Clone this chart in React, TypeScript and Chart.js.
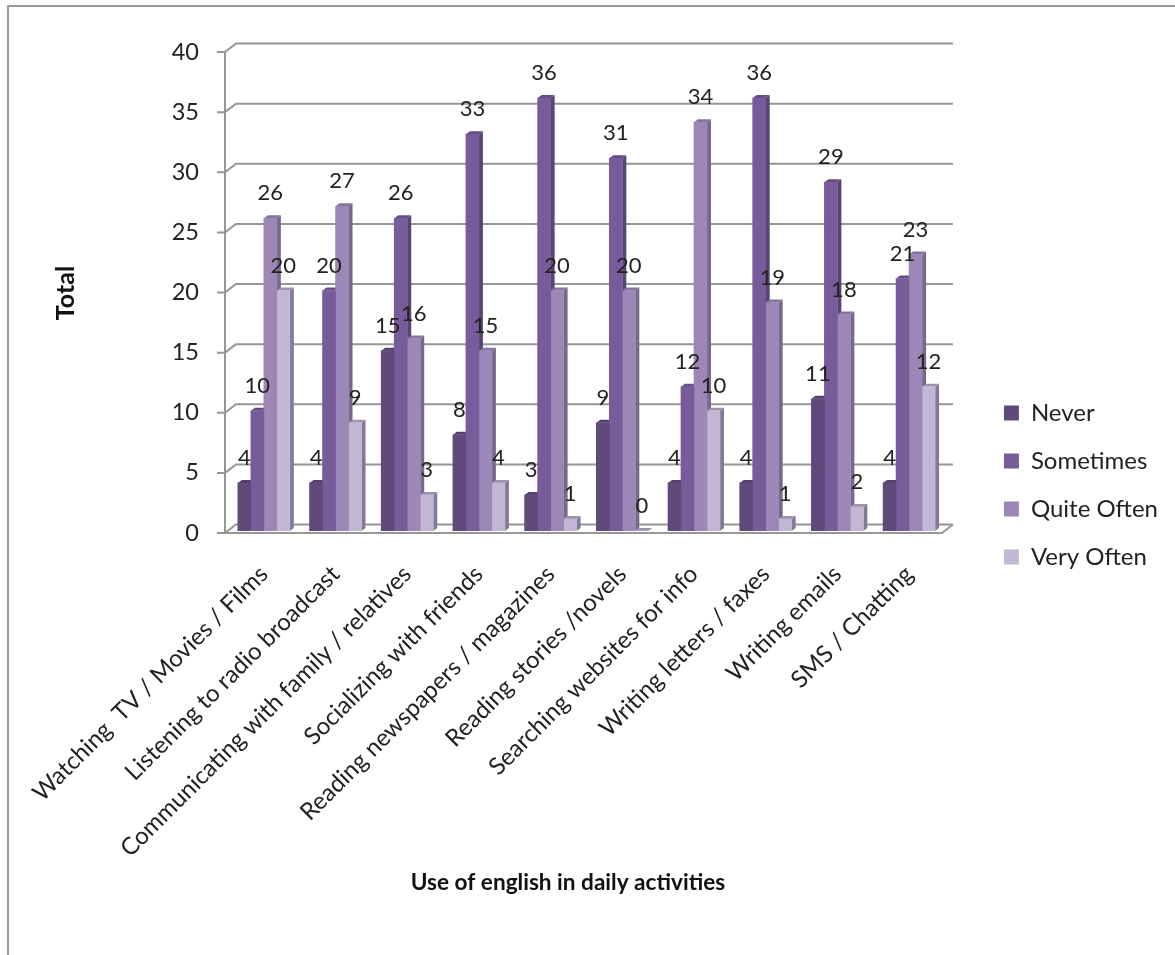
import React, { useEffect, useRef } from "react";
import { Chart, registerables } from "chart.js";

Chart.register(...registerables);

const categories = [
  "Watching  TV / Movies / Films",
  "Listening to radio broadcast",
  "Communicating with family / relatives",
  "Socializing with friends",
  "Reading newspapers / magazines",
  "Reading stories /novels",
  "Searching websites for info",
  "Writing letters / faxes",
  "Writing emails",
  "SMS / Chatting",
];
const never = [4, 4, 15, 8, 3, 9, 4, 4, 11, 4];
const sometimes = [10, 20, 26, 33, 36, 31, 12, 36, 29, 21];
const quiteOften = [26, 27, 16, 15, 20, 20, 34, 19, 18, 23];
const veryOften = [20, 9, 3, 4, 1, 0, 10, 1, 2, 12];

const FRONT = ["#604a7b", "#775b9a", "#9c87b6", "#c3b8d4"];
const SIDE = ["#4b3a61", "#584475", "#766a8c", "#85799a"];
const TOP = ["#54406c", "#644e85", "#85749d", "#a093ad"];
const GRID = "#969696";
const FONT = "Lato, 'Open Sans', sans-serif";

const DEPTH_X = 4;
const DEPTH_Y = 3;
const WALL_X = 11;
const WALL_Y = 8.5;
const LIFT = 2;

const perspective = {
  id: "perspective",
  beforeDraw(chart: any) {
    const { ctx, width, height } = chart;
    ctx.save();
    ctx.fillStyle = "#fff";
    ctx.fillRect(0, 0, width, height);
    ctx.strokeStyle = "#9a9a9a";
    ctx.lineWidth = 2;
    ctx.beginPath();
    ctx.moveTo(8, height);
    ctx.lineTo(8, 6);
    ctx.lineTo(width, 6);
    ctx.stroke();
    ctx.restore();
  },
  beforeDatasetsDraw(chart: any) {
    const { ctx, scales, chartArea } = chart;
    const axisX = chartArea.left - 3;
    const wallRight = chartArea.right + 8;
    ctx.save();
    ctx.strokeStyle = GRID;
    ctx.lineWidth = 2;
    // Back wall rules with their ticks and the slanted joins to the axis
    scales.y.ticks.forEach((t: any) => {
      const py = scales.y.getPixelForValue(t.value);
      ctx.beginPath();
      ctx.moveTo(axisX - 8, py);
      ctx.lineTo(axisX, py);
      ctx.lineTo(axisX + WALL_X, py - WALL_Y);
      ctx.lineTo(wallRight, py - WALL_Y);
      ctx.stroke();
    });
    const floor = scales.y.getPixelForValue(0);
    const ceiling = scales.y.getPixelForValue(40);
    ctx.beginPath();
    ctx.moveTo(axisX, ceiling);
    ctx.lineTo(axisX, floor);
    ctx.stroke();
    // Front edge of the floor
    ctx.beginPath();
    ctx.moveTo(axisX - 8, floor);
    ctx.lineTo(wallRight - WALL_X, floor);
    ctx.lineTo(wallRight, floor - WALL_Y);
    ctx.stroke();
    ctx.restore();

    ctx.save();
    ctx.translate(0, -LIFT);
    // Side and top faces, so the fronts drawn next overlap them
    chart.data.datasets.forEach((_: any, di: number) => {
      chart.getDatasetMeta(di).data.forEach((bar: any) => {
        const p = bar.getProps(["x", "y", "base", "width"], true);
        const l = p.x - p.width / 2;
        const r = p.x + p.width / 2;
        ctx.fillStyle = SIDE[di];
        ctx.beginPath();
        ctx.moveTo(r, p.y);
        ctx.lineTo(r + DEPTH_X, p.y - DEPTH_Y);
        ctx.lineTo(r + DEPTH_X, p.base - DEPTH_Y);
        ctx.lineTo(r, p.base);
        ctx.closePath();
        ctx.fill();
        ctx.fillStyle = TOP[di];
        ctx.beginPath();
        ctx.moveTo(l, p.y);
        ctx.lineTo(l + DEPTH_X, p.y - DEPTH_Y);
        ctx.lineTo(r + DEPTH_X, p.y - DEPTH_Y);
        ctx.lineTo(r, p.y);
        ctx.closePath();
        ctx.fill();
      });
    });
  },
  afterDatasetsDraw(chart: any) {
    const { ctx } = chart;
    ctx.restore();
    ctx.save();
    ctx.fillStyle = "#222";
    ctx.font = `22px ${FONT}`;
    ctx.textAlign = "center";
    ctx.textBaseline = "middle";
    chart.data.datasets.forEach((ds: any, di: number) => {
      chart.getDatasetMeta(di).data.forEach((bar: any, i: number) => {
        const p = bar.getProps(["x", "y"], true);
        ctx.fillText(String(ds.data[i]), p.x, p.y - LIFT - 25);
      });
    });
    // Axis titles
    ctx.fillStyle = "#111";
    ctx.font = `bold 22.6px ${FONT}`;
    ctx.fillText("Use of english in daily activities", 568, 883);
    ctx.font = `bold 25px ${FONT}`;
    ctx.translate(66, 293);
    ctx.rotate(-Math.PI / 2);
    ctx.fillText("Total", 0, 0);
    ctx.restore();
  },
};

export default function App() {
  const ref = useRef<HTMLCanvasElement>(null);
  useEffect(() => {
    const chart = new Chart(ref.current!, {
      type: "bar",
      data: {
        labels: categories,
        datasets: [
          { label: "Never", data: never, backgroundColor: FRONT[0] },
          { label: "Sometimes", data: sometimes, backgroundColor: FRONT[1] },
          { label: "Quite Often", data: quiteOften, backgroundColor: FRONT[2] },
          { label: "Very Often", data: veryOften, backgroundColor: FRONT[3] },
        ],
      },
      options: {
        responsive: false,
        animation: false,
        layout: { padding: { top: 52, bottom: 37, left: 0, right: 7 } },
        datasets: { bar: { barThickness: 13, borderWidth: 0 } },
        plugins: {
          tooltip: { enabled: false },
          legend: {
            position: "right",
            labels: {
              boxWidth: 15,
              boxHeight: 15,
              padding: 24,
              color: "#222",
              font: { family: FONT, size: 24 },
            },
          },
        },
        scales: {
          x: {
            grid: { display: false },
            border: { display: false },
            afterFit(s: any) {
              s.height = 385;
            },
            ticks: {
              autoSkip: false,
              minRotation: 45,
              maxRotation: 45,
              padding: 19,
              color: "#222",
              font: { family: FONT, size: 24 },
            },
          },
          y: {
            min: 0,
            max: 40,
            grid: { display: false },
            border: { display: false },
            afterFit(s: any) {
              s.width = 228;
            },
            ticks: {
              stepSize: 5,
              padding: 21,
              color: "#222",
              font: { family: FONT, size: 23.5 },
            },
          },
          gutter: {
            type: "linear",
            position: "right",
            grid: { display: false },
            border: { display: false },
            ticks: { display: false },
            afterFit(s: any) {
              s.width = 35;
            },
          },
        },
      } as any,
      plugins: [perspective],
    });
    return () => chart.destroy();
  }, []);
  return (
    <div style={{ position: "absolute", left: 0, top: 0 }}>
      <canvas ref={ref} width={1175} height={955} style={{ display: "block" }} />
    </div>
  );
}
